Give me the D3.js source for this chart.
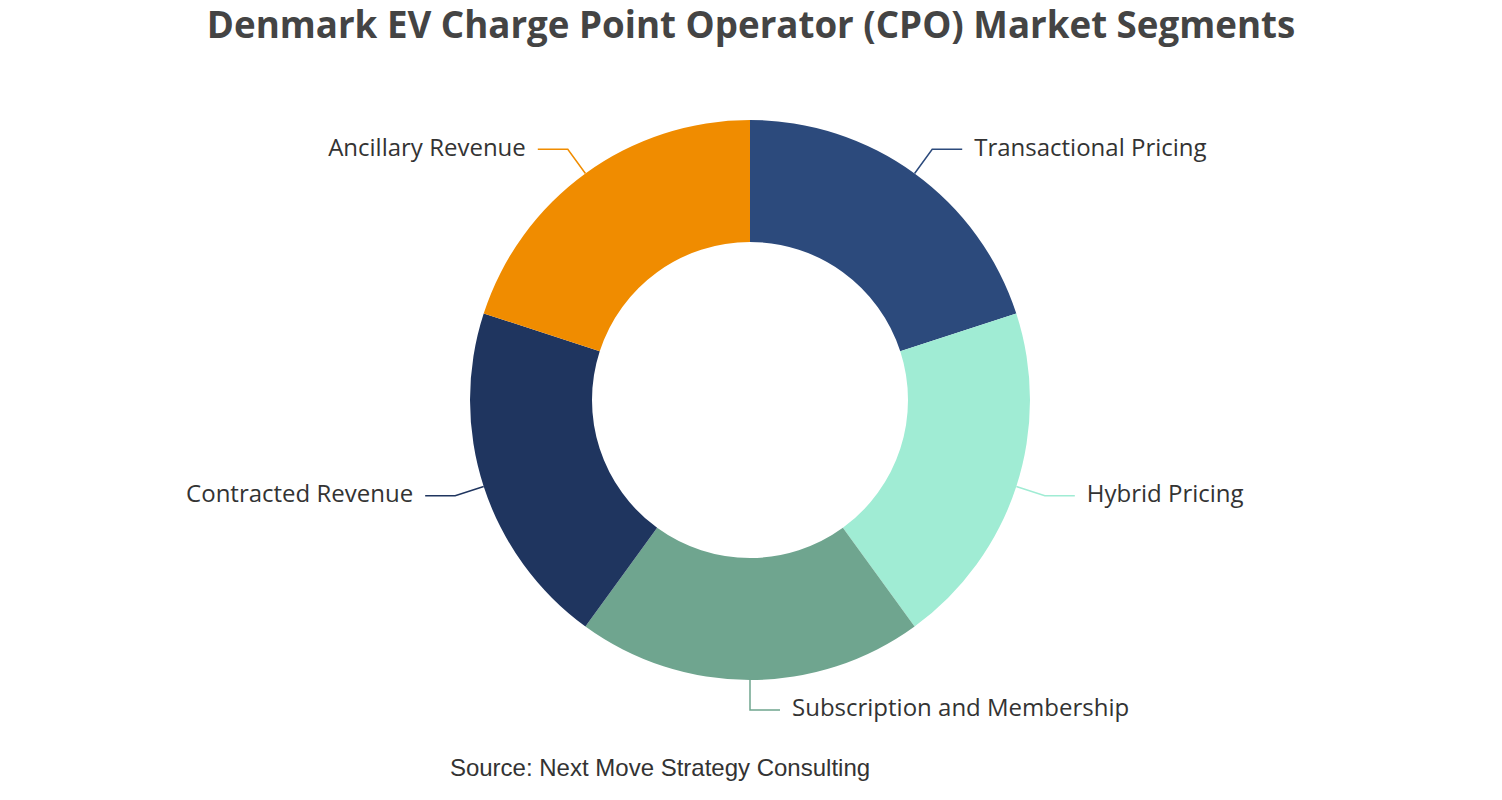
<!DOCTYPE html>
<html>
<head>
<meta charset="utf-8">
<script src="https://cdn.jsdelivr.net/npm/d3@7"></script>
<style>
  body { margin: 0; background: #fff; }
  .chart-title { font-family: "Open Sans", sans-serif; font-weight: 700; fill: #444; }
  .slice-label { font-family: "Open Sans", sans-serif; fill: #333; }
  .source { font-family: "Liberation Sans", Arial, sans-serif; fill: #333; }
</style>
</head>
<body>
<svg id="chart"></svg>
<script>
// Segments, clockwise from 12 o'clock
const segments = ['Transactional Pricing', 'Hybrid Pricing', 'Subscription and Membership', 'Contracted Revenue', 'Ancillary Revenue'];
const shares = [20, 20, 20, 20, 20];
const colors = ['#2c4a7c', '#a0ecd4', '#6fa58f', '#1f355f', '#f08c00'];

const width = 1502, height = 800;
const cx = 750, cy = 400;
const outerR = 280, innerR = 158;

const svg = d3.select('#chart')
  .attr('width', width)
  .attr('height', height);

// Title
svg.append('text')
  .attr('class', 'chart-title')
  .attr('x', width / 2)
  .attr('y', 38)
  .attr('text-anchor', 'middle')
  .style('font-size', '36.7px')
  .text('Denmark EV Charge Point Operator (CPO) Market Segments');

const data = segments.map((name, i) => ({ name, value: shares[i], color: colors[i] }));

const pie = d3.pie()
  .value(d => d.value)
  .sort(null);

const arc = d3.arc()
  .innerRadius(innerR)
  .outerRadius(outerR);

const g = svg.append('g')
  .attr('transform', `translate(${cx},${cy})`);

const arcs = pie(data);

g.selectAll('.slice')
  .data(arcs)
  .join('path')
  .attr('class', 'slice')
  .attr('d', arc)
  .attr('fill', d => d.data.color);

// Label lines: radial leg then horizontal leg
const pointAt = (angle, r) => [Math.sin(angle) * r, -Math.cos(angle) * r];

arcs.forEach(d => {
  const mid = (d.startAngle + d.endAngle) / 2;
  const p1 = pointAt(mid, outerR);
  const p2 = pointAt(mid, outerR + 30);
  const right = Math.sin(mid) >= -1e-6;
  const p3 = [p2[0] + (right ? 30 : -30), p2[1]];

  g.append('polyline')
    .attr('points', [p1, p2, p3].map(p => p.join(',')).join(' '))
    .attr('fill', 'none')
    .attr('stroke', d.data.color)
    .attr('stroke-width', 1.5);

  g.append('text')
    .attr('class', 'slice-label')
    .attr('x', p3[0] + (right ? 12 : -12))
    .attr('y', p3[1] - 2)
    .attr('dy', '0.35em')
    .attr('text-anchor', right ? 'start' : 'end')
    .style('font-size', '24px')
    .text(d.data.name);
});

// Source note
svg.append('text')
  .attr('class', 'source')
  .attr('x', 660)
  .attr('y', 776)
  .attr('text-anchor', 'middle')
  .style('font-size', '24px')
  .text('Source: Next Move Strategy Consulting');
</script>
</body>
</html>
